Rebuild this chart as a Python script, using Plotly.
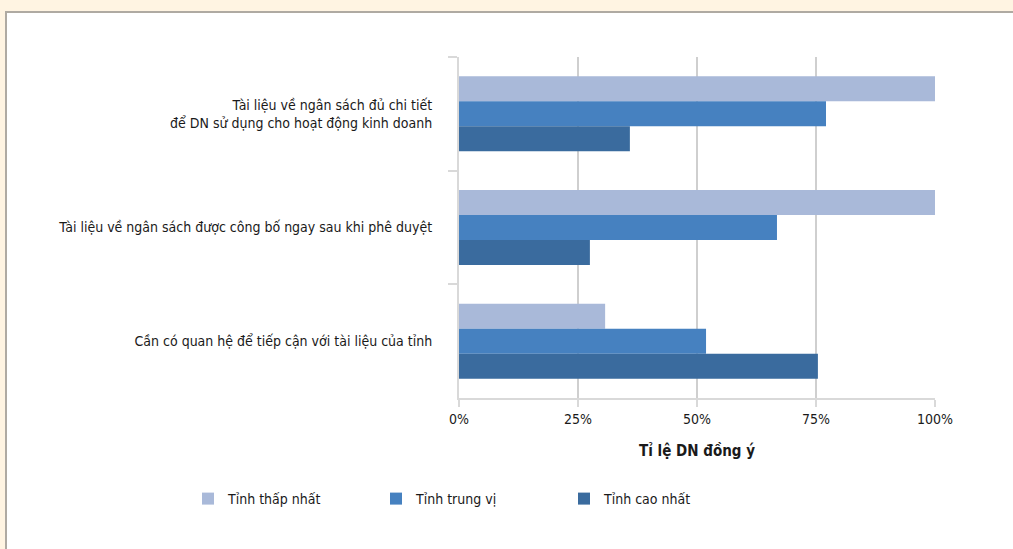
import plotly.graph_objects as go

categories = [
    "Tài liệu về ngân sách đủ chi tiết<br>để DN sử dụng cho hoạt động kinh doanh",
    "Tài liệu về ngân sách được công bố ngay sau khi phê duyệt",
    "Cần có quan hệ để tiếp cận với tài liệu của tỉnh",
]
series_names = ["Tỉnh thấp nhất", "Tỉnh trung vị", "Tỉnh cao nhất"]
lowest = [100, 100, 30.7]
median = [77.1, 66.8, 51.9]
highest = [35.9, 27.5, 75.4]
x_ticks = [0, 25, 50, 75, 100]
x_tick_labels = ["0%", "25%", "50%", "75%", "100%"]

colors = ["#A9B9D9", "#4681C0", "#3A6B9E"]
FONT = "DejaVu Sans Condensed, Roboto, sans-serif"

fig = go.Figure()
for name, vals, col in zip(series_names, [lowest, median, highest], colors):
    fig.add_trace(go.Bar(y=categories, x=vals, name=name, orientation="h",
                         marker=dict(color=col, line=dict(width=0))))

L, R, T, B = 459, 78, 57, 151
W, H = 1013, 549
pw, ph = W - L - R, H - T - B

def px(x):
    return (x - L) / pw

def py(y):
    return (H - B - y) / ph

fig.update_layout(
    width=W, height=H,
    margin=dict(l=L, r=R, t=T, b=B, pad=0),
    paper_bgcolor="#FFF4E2",
    plot_bgcolor="rgba(0,0,0,0)",
    barmode="group", bargap=0.34, bargroupgap=0,
    font=dict(family=FONT, size=14, color="#1a1a1a"),
    showlegend=True,
    legend=dict(orientation="h", x=px(188), xanchor="left", y=py(499), yanchor="middle",
                font=dict(family=FONT, size=14, color="#1a1a1a"),
                entrywidth=143, bgcolor="rgba(0,0,0,0)", traceorder="normal"),
    shapes=[dict(type="rect", xref="paper", yref="paper", layer="below",
                 x0=px(6), x1=px(1100), y0=py(700), y1=py(12),
                 fillcolor="#FFFFFF", line=dict(color="#AFAAA2", width=2))],
    xaxis=dict(range=[0, 100], tickvals=x_ticks, ticktext=x_tick_labels,
               showgrid=True, gridcolor="#CFCFCF", gridwidth=2,
               showline=True, linecolor="#D9D9D9", linewidth=2,
               ticks="outside", ticklen=7, tickcolor="#D9D9D9", tickwidth=2,
               zeroline=False, tickfont=dict(family=FONT, size=14),
               title=dict(text="<b>Tỉ lệ DN đồng ý</b>", font=dict(family=FONT, size=15), standoff=20),
               fixedrange=True),
    yaxis=dict(autorange="reversed", showline=True, linecolor="#D9D9D9", linewidth=2,
               ticks="outside", ticklen=9, tickcolor="#D9D9D9", tickwidth=2,
               tickson="boundaries", showgrid=False, zeroline=False,
               ticklabelstandoff=22, tickfont=dict(family=FONT, size=14),
               fixedrange=True),
)

fig.write_html("out.html", config={"displayModeBar": False},
               post_script="document.body.style.margin='0';document.body.style.background='#FFF4E2';")
